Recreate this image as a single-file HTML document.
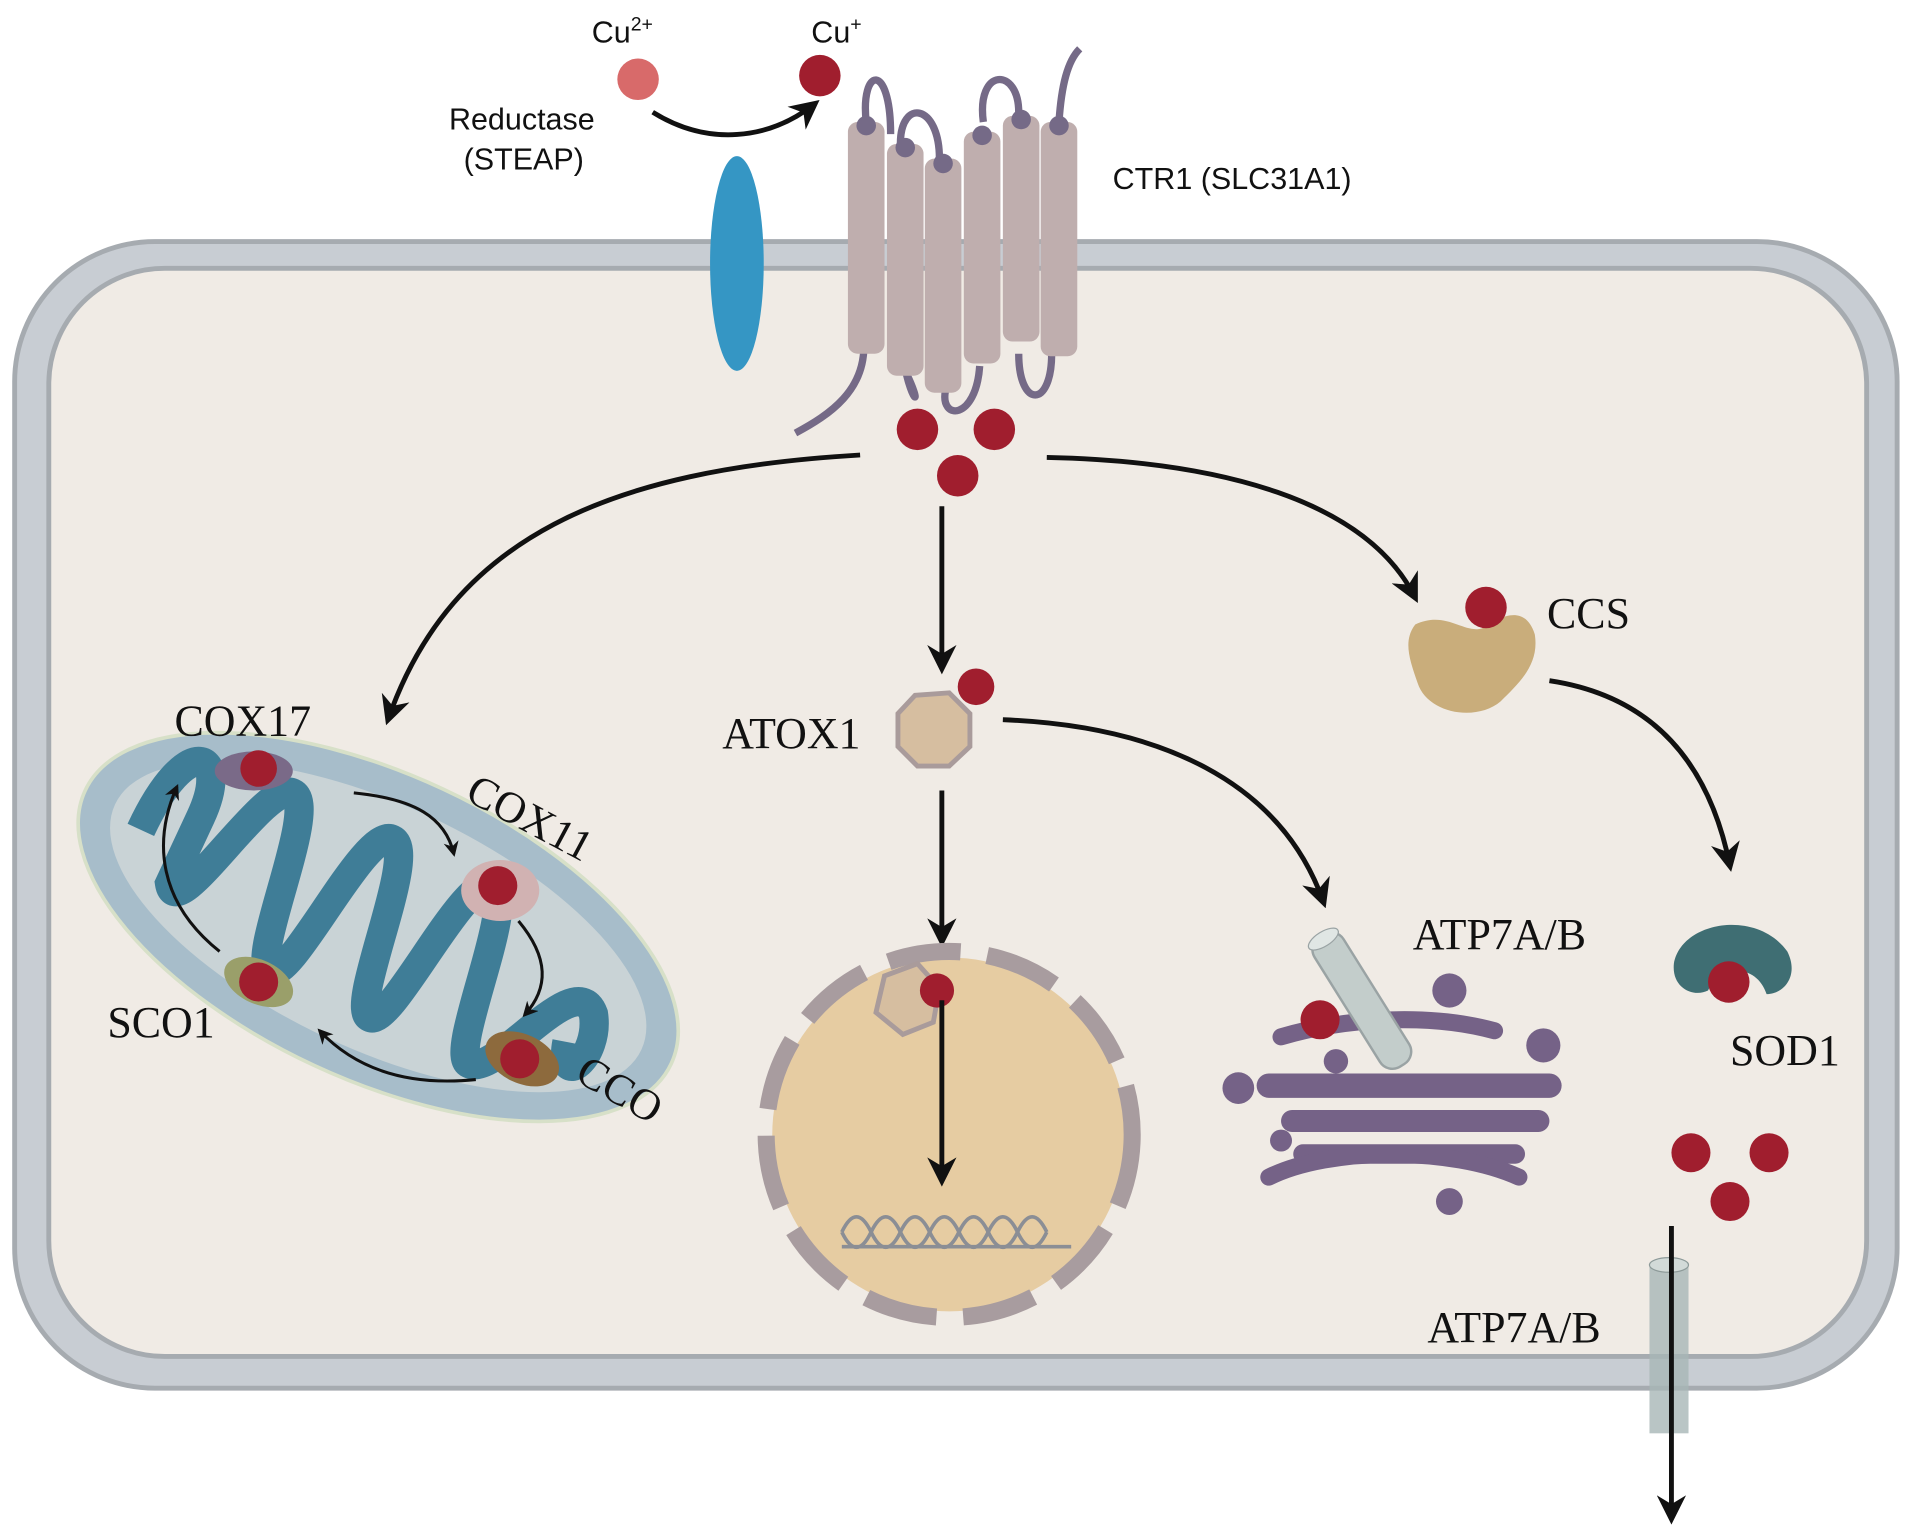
<!DOCTYPE html>
<html><head><meta charset="utf-8"><style>
html,body{margin:0;padding:0;background:#fff;}
svg{display:block;}
.s{font-family:"Liberation Sans",sans-serif;font-size:25px;fill:#111;}
.t{font-family:"Liberation Serif",serif;font-size:36px;fill:#111;}
</style></head><body>
<svg width="1913" height="1537" viewBox="0 0 1568 1260" preserveAspectRatio="none" xmlns="http://www.w3.org/2000/svg">
<defs>
<marker id="a" viewBox="0 0 10 10" refX="8" refY="5" markerWidth="5" markerHeight="5" orient="auto"><path d="M0,0 L10,5 L0,10 L3,5 z" fill="#111"/></marker>
<marker id="b" viewBox="0 0 10 10" refX="8" refY="5" markerWidth="6" markerHeight="6" orient="auto"><path d="M0,0 L10,5 L0,10 L3,5 z" fill="#111"/></marker>
</defs>
<rect width="1568" height="1260" fill="#fff"/>
<rect x="12" y="198" width="1543" height="940" rx="115" fill="#c8cdd3" stroke="#a6abb0" stroke-width="4"/>
<rect x="40" y="220" width="1490" height="892" rx="95" fill="#f0ebe5" stroke="#a6abb0" stroke-width="4"/>
<ellipse cx="604" cy="216" rx="22" ry="88" fill="#3596c4"/>
<g fill="none" stroke="#756a87" stroke-width="6">
<path d="M710,100 C705,55 730,50 730,110"/>
<path d="M738,118 C738,80 770,85 770,130"/>
<path d="M806,100 C800,55 835,55 835,92"/>
<path d="M868,100 C870,70 875,50 885,40"/>
<path d="M708,280 C710,320 680,340 652,355"/>
<path d="M740,290 C745,330 760,340 740,300"/>
<path d="M775,320 C770,345 800,345 803,300"/>
<path d="M835,290 C835,335 862,335 862,290"/>
</g>
<g fill="#bfaeae">
<rect x="695" y="100" width="30" height="190" rx="8"/>
<rect x="727" y="118" width="30" height="190" rx="8"/>
<rect x="758" y="130" width="30" height="192" rx="8"/>
<rect x="790" y="108" width="30" height="190" rx="8"/>
<rect x="822" y="95" width="30" height="185" rx="8"/>
<rect x="853" y="100" width="30" height="192" rx="8"/>
</g>
<g fill="#756a87"><circle cx="710" cy="103" r="8"/><circle cx="742" cy="121" r="8"/><circle cx="773" cy="134" r="8"/><circle cx="805" cy="111" r="8"/><circle cx="837" cy="98" r="8"/><circle cx="868" cy="103" r="8"/></g>
<text class="s" x="912" y="155">CTR1 (SLC31A1)</text>
<text class="s" x="485" y="35">Cu<tspan font-size="16" dy="-10">2+</tspan></text>
<text class="s" x="665" y="35">Cu<tspan font-size="16" dy="-10">+</tspan></text>
<circle cx="523" cy="65" r="17" fill="#d86a6a"/>
<circle cx="672" cy="62" r="17" fill="#a01e2e"/>
<path d="M535,92 C580,120 630,115 668,85" fill="none" stroke="#111" stroke-width="4" marker-end="url(#b)"/>
<text class="s" x="368" y="106">Reductase</text>
<text class="s" x="380" y="139">(STEAP)</text>
<g fill="#a01e2e"><circle cx="752" cy="352" r="17"/><circle cx="815" cy="352" r="17"/><circle cx="785" cy="390" r="17"/></g>
<g fill="none" stroke="#111" stroke-width="4" marker-end="url(#b)">
<path d="M705,373 C500,385 370,440 318,590"/>
<path d="M772,415 L772,548"/>
<path d="M858,375 C1000,378 1120,410 1160,490"/>
<path d="M822,590 C950,595 1050,640 1085,740"/>
<path d="M1270,558 C1350,570 1400,620 1418,710"/>
<path d="M772,648 L772,772"/>
</g>
<path d="M1160,512 C1185,500 1200,520 1215,515 C1230,505 1250,495 1258,520 C1262,545 1245,560 1230,575 C1210,592 1170,585 1162,560 C1155,540 1150,525 1160,512z" fill="#c9ad7b"/>
<circle cx="1218" cy="498" r="17" fill="#a01e2e"/>
<text class="t" x="1268" y="515">CCS</text>
<polygon points="750,570 778,568 795,585 795,612 778,628 752,628 736,612 736,585" fill="#d6bea0" stroke="#a99b9b" stroke-width="4"/>
<circle cx="800" cy="563" r="15" fill="#a01e2e"/>
<text class="t" x="592" y="613">ATOX1</text>
<circle cx="778" cy="930" r="145" fill="#e6cca2"/>
<circle cx="778" cy="930" r="150" fill="none" stroke="#a89c9f" stroke-width="14" stroke-dasharray="60 22"/>
<polygon points="725,800 752,790 770,810 765,838 740,848 718,830" fill="#d6bea0" stroke="#a99b9b" stroke-width="4"/>
<circle cx="768" cy="812" r="14" fill="#a01e2e"/>
<g fill="none" stroke="#8b8e95" stroke-width="3">
<path d="M690,1010 q12,-25 24,0 t24,0 t24,0 t24,0 t24,0 t24,0 t24,0"/>
<path d="M690,1010 q12,25 24,0 t24,0 t24,0 t24,0 t24,0 t24,0 t24,0"/>
<line x1="690" y1="1022" x2="878" y2="1022"/>
</g>
<path d="M772,820 L772,968" fill="none" stroke="#111" stroke-width="4" marker-end="url(#b)"/>
<g transform="rotate(25 310 760)">
<ellipse cx="310" cy="760" rx="265" ry="125" fill="#a7bdca" stroke="#d7e0c8" stroke-width="3"/>
<ellipse cx="310" cy="760" rx="238" ry="100" fill="#c9d3d6"/>
<path d="M100,770 C100,680 140,680 140,740 L140,800 C160,830 175,690 200,690 C225,690 225,830 245,830 C265,830 265,690 290,690 C315,690 315,830 335,830 C355,830 355,690 380,690 C405,690 405,830 425,830 C450,830 470,720 500,750 C520,780 500,820 490,780" fill="none" stroke="#3f7d97" stroke-width="24"/>
</g>
<ellipse cx="208" cy="632" rx="32" ry="16" fill="#7a6a88"/><circle cx="212" cy="630" r="15" fill="#a01e2e"/>
<ellipse cx="410" cy="730" rx="32" ry="25" fill="#d1b2b2"/><circle cx="408" cy="726" r="16" fill="#a01e2e"/>
<ellipse cx="212" cy="805" rx="30" ry="18" fill="#9a9f6a" transform="rotate(25 212 805)"/><circle cx="212" cy="805" r="16" fill="#a01e2e"/>
<ellipse cx="428" cy="868" rx="32" ry="20" fill="#8d6a3d" transform="rotate(25 428 868)"/><circle cx="426" cy="868" r="16" fill="#a01e2e"/>
<g fill="none" stroke="#111" stroke-width="2.5" marker-end="url(#a)">
<path d="M290,650 C340,655 365,670 372,700"/>
<path d="M425,755 C450,785 450,810 430,832"/>
<path d="M390,885 C340,890 295,880 262,845"/>
<path d="M180,780 C130,740 125,690 145,645"/>
</g>
<text class="t" x="143" y="603">COX17</text>
<text class="t" x="0" y="0" transform="translate(380,655) rotate(28)">COX11</text>
<text class="t" x="88" y="850">SCO1</text>
<text class="t" x="0" y="0" transform="translate(470,885) rotate(30)">CCO</text>
<g fill="#756287">
<rect x="1030" y="880" width="250" height="20" rx="10"/>
<rect x="1050" y="910" width="220" height="18" rx="9"/>
<rect x="1060" y="938" width="190" height="16" rx="8"/>
<path d="M1040,965 C1090,940 1190,940 1245,965" stroke="#756287" stroke-width="14" fill="none" stroke-linecap="round"/>
<path d="M1050,850 C1100,835 1170,830 1225,845" stroke="#756287" stroke-width="14" fill="none" stroke-linecap="round"/>
<circle cx="1015" cy="892" r="13"/><circle cx="1188" cy="812" r="14"/><circle cx="1265" cy="857" r="14"/><circle cx="1095" cy="870" r="10"/><circle cx="1188" cy="985" r="11"/><circle cx="1050" cy="935" r="9"/>
</g>
<g transform="rotate(-32 1120 815)"><rect x="1100" y="755" width="28" height="125" rx="12" fill="#c3cdcb" stroke="#9aa3a4" stroke-width="2"/><ellipse cx="1114" cy="758" rx="14" ry="6" fill="#e0e6e4" stroke="#9aa3a4"/></g>
<circle cx="1082" cy="836" r="16" fill="#a01e2e"/>
<text class="t" x="1158" y="778">ATP7A/B</text>
<path d="M1372,790 C1378,755 1440,745 1465,780 C1475,800 1462,815 1448,815 C1440,790 1410,790 1400,812 C1388,818 1370,810 1372,790z" fill="#3f6e73"/>
<circle cx="1417" cy="805" r="17" fill="#a01e2e"/>
<text class="t" x="1418" y="873">SOD1</text>
<g fill="#a01e2e"><circle cx="1386" cy="945" r="16"/><circle cx="1450" cy="945" r="16"/><circle cx="1418" cy="985" r="16"/></g>
<rect x="1352" y="1035" width="32" height="140" fill="#a8b7b6" opacity="0.8"/>
<ellipse cx="1368" cy="1037" rx="16" ry="6" fill="#d2dad8" stroke="#8d9a99"/>
<path d="M1370,1005 L1370,1245" fill="none" stroke="#111" stroke-width="4" marker-end="url(#b)"/>
<text class="t" x="1170" y="1100">ATP7A/B</text>
</svg>
</body></html>
